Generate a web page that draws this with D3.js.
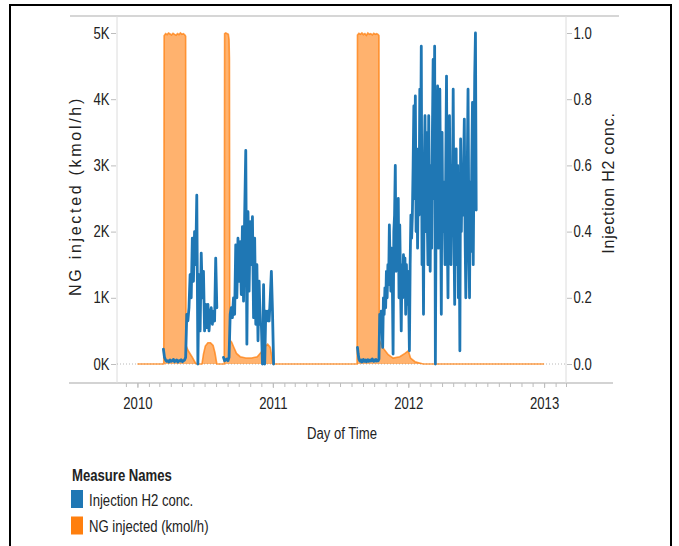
<!DOCTYPE html>
<html>
<head>
<meta charset="utf-8">
<script src="https://cdn.jsdelivr.net/npm/d3@7"></script>
<style>
  body { margin: 0; background: #fff; }
  svg text { font-family: "Liberation Sans", Arial, sans-serif; fill: #222; }
</style>
</head>
<body>
<svg id="chart" width="679" height="546"></svg>
<script>
// Measures and their colours
const seriesNames = ["Injection H2 conc.", "NG injected (kmol/h)"];
const seriesColors = ["#1f77b4", "#ff7f0e"];

// Axis ticks
const leftTicks = [0, 1000, 2000, 3000, 4000, 5000];
const rightTicks = [0, 0.2, 0.4, 0.6, 0.8, 1.0];
const yearTicks = ["2010-01-01", "2011-01-01", "2012-01-01", "2013-01-01"];

// NG injected (kmol/h): [day, value]
const ngPoints = [
  ["2010-01-01", 0], ["2010-03-13", 0], ["2010-03-14", 4960], ["2010-03-18", 4990], ["2010-03-22", 4975],
  ["2010-03-26", 5000], ["2010-03-30", 4985], ["2010-04-03", 4970], ["2010-04-07", 4995], ["2010-04-11", 4980],
  ["2010-04-15", 4965], ["2010-04-19", 4990], ["2010-04-23", 4975], ["2010-04-27", 5000], ["2010-05-01", 4980],
  ["2010-05-05", 4990], ["2010-05-09", 4970], ["2010-05-11", 4950], ["2010-05-12", 280], ["2010-05-18", 200],
  ["2010-05-28", 110], ["2010-06-06", 20], ["2010-06-10", 0],
  ["2010-06-24", 0], ["2010-06-28", 150], ["2010-07-03", 270], ["2010-07-10", 320], ["2010-07-17", 320],
  ["2010-07-24", 280], ["2010-07-29", 170], ["2010-08-03", 0],
  ["2010-08-23", 0], ["2010-08-24", 4990], ["2010-08-27", 5000], ["2010-08-31", 4990], ["2010-09-03", 4980],
  ["2010-09-05", 4900], ["2010-09-06", 4600], ["2010-09-07", 360], ["2010-09-12", 330], ["2010-09-18", 250],
  ["2010-09-25", 160], ["2010-10-05", 110], ["2010-10-20", 90], ["2010-11-05", 90], ["2010-11-20", 110],
  ["2010-12-01", 180], ["2010-12-10", 260], ["2010-12-18", 300], ["2010-12-25", 250], ["2010-12-29", 120],
  ["2011-01-01", 0],
  ["2011-08-16", 0], ["2011-08-17", 4970], ["2011-08-21", 4995], ["2011-08-25", 4980], ["2011-08-29", 5000],
  ["2011-09-02", 4975], ["2011-09-06", 4990], ["2011-09-10", 4965], ["2011-09-14", 5000], ["2011-09-18", 4980],
  ["2011-09-22", 4990], ["2011-09-26", 4970], ["2011-09-30", 4995], ["2011-10-04", 4980], ["2011-10-08", 4990],
  ["2011-10-12", 4975], ["2011-10-14", 4960], ["2011-10-15", 360], ["2011-10-25", 240], ["2011-11-08", 140],
  ["2011-11-21", 90], ["2011-12-09", 110], ["2011-12-23", 160], ["2012-01-01", 200], ["2012-01-07", 90],
  ["2012-01-19", 35], ["2012-02-10", 0], ["2013-01-01", 0]
];

// Injection H2 conc.: regular readings from each run's start day
const h2Starts = ["2010-03-12", "2010-08-21", "2011-08-17"];
const h2Steps = [3, 3, 2];
const h2Run1 = [
  0.045, 0.02, 0.012, 0.008, 0.01, 0.006, 0.012, 0.008, 0.01, 0.014, 0.007, 0.01, 0.012, 0.006, 0.01,
  0.009, 0.013, 0.007, 0.01, 0.012, 0.02,
  0.15, 0.13, 0.17, 0.27, 0.2, 0.38, 0.25, 0.40, 0.30, 0.51, 0.0, 0.27, 0.1, 0.335, 0.2, 0.28, 0.1,
  0.18, 0.11, 0.18, 0.1, 0.15, 0.17, 0.12, 0.16, 0.13, 0.32, 0.17
];
const h2Run2 = [
  0.02, 0.01, 0.012, 0.015, 0.01, 0.02, 0.15, 0.17, 0.14, 0.2, 0.15, 0.36, 0.2, 0.38, 0.25, 0.37,
  0.21, 0.415, 0.19, 0.45, 0.645, 0.06, 0.46, 0.22, 0.43, 0.3, 0.445, 0.14, 0.38, 0.12, 0.3, 0.07,
  0.25, 0.12, 0.12, 0.0, 0.24, 0.0, 0.16, 0.13, 0.16, 0.13, 0.2, 0.28, 0.16, 0.0
];
const h2Run3 = [
  0.05, 0.03, 0.015, 0.01, 0.008, 0.012, 0.006, 0.01, 0.014, 0.008, 0.01, 0.012, 0.007, 0.01, 0.013,
  0.008, 0.01, 0.012, 0.009, 0.011, 0.015, 0.01, 0.008, 0.012, 0.01, 0.014, 0.009, 0.011, 0.01, 0.015,
  0.15, 0.1, 0.16, 0.12, 0.05, 0.2, 0.15, 0.23, 0.17, 0.28, 0.2, 0.3, 0.24, 0.42, 0.3, 0.22, 0.35,
  0.25, 0.03, 0.4, 0.45, 0.6, 0.28, 0.45, 0.3, 0.5, 0.2, 0.42, 0.25, 0.1, 0.3, 0.2, 0.33, 0.23, 0.32,
  0.15, 0.3, 0.18, 0.28, 0.2, 0.04, 0.3, 0.45, 0.38, 0.45, 0.6, 0.78, 0.5, 0.81, 0.4, 0.65, 0.35, 0.6,
  0.45, 0.83, 0.6, 0.96, 0.3, 0.5, 0.15, 0.6, 0.75, 0.4, 0.7, 0.45, 0.3, 0.75, 0.5, 0.28, 0.6, 0.35,
  0.7, 0.92, 0.5, 0.96, 0.0, 0.5, 0.65, 0.84, 0.35, 0.6, 0.83, 0.5, 0.15, 0.7, 0.4, 0.55, 0.45, 0.3,
  0.6, 0.87, 0.4, 0.2, 0.6, 0.75, 0.45, 0.3, 0.6, 0.5, 0.83, 0.4, 0.18, 0.5, 0.65, 0.3, 0.6, 0.2, 0.45,
  0.04, 0.68, 0.4, 0.6, 0.45, 0.6, 0.74, 0.4, 0.2, 0.34, 0.6, 0.83, 0.45, 0.2, 0.55, 0.34, 0.6, 0.79,
  0.3, 0.6, 0.87, 1.0, 0.465
];

const parseDay = d3.utcParse("%Y-%m-%d");
const svg = d3.select("#chart");
const NARROW = 0.82;   // horizontal squeeze for the condensed label face

function narrowText(parent, x, y, str, opts = {}) {
  return parent.append("text")
    .attr("transform", `translate(${x},${y}) scale(${NARROW},1)`)
    .attr("text-anchor", opts.anchor || "start")
    .attr("font-size", opts.size || 16)
    .attr("font-weight", opts.weight || "normal")
    .text(str);
}

// Frame
svg.append("rect").attr("x", 10).attr("y", 5).attr("width", 661).attr("height", 560)
  .attr("fill", "none").attr("stroke", "#000").attr("stroke-width", 2);

const plotLeft = 117, plotRight = 566, plotTop = 16, plotBottom = 383;

const x = d3.scaleUtc()
  .domain([parseDay("2009-11-07"), parseDay("2013-03-01")])
  .range([plotLeft, plotRight]);
const yNG = d3.scaleLinear().domain([0, 5000]).range([364, 33]);
const yH2 = d3.scaleLinear().domain([0, 1]).range([364, 33]);

// Pane borders
svg.append("line").attr("x1", 70).attr("x2", 619).attr("y1", plotTop).attr("y2", plotTop)
  .attr("stroke", "#d6d6d6").attr("stroke-width", 2);
svg.append("line").attr("x1", 69).attr("x2", 613).attr("y1", plotBottom).attr("y2", plotBottom)
  .attr("stroke", "#c4c4c4").attr("stroke-width", 1.5);
[plotLeft, plotRight].forEach(px => {
  svg.append("line").attr("x1", px).attr("x2", px).attr("y1", plotTop).attr("y2", plotBottom)
    .attr("stroke", "#dcdcdc").attr("stroke-width", 1);
});

// Zero reference line
svg.append("line").attr("x1", plotLeft).attr("x2", plotRight).attr("y1", yNG(0)).attr("y2", yNG(0))
  .attr("stroke", "#b8b8b8").attr("stroke-width", 1).attr("stroke-dasharray", "1,2");

function styleTicks(g) {
  g.select(".domain").remove();
  g.selectAll(".tick line").attr("stroke", "#bdbdbd");
  g.selectAll(".tick text").attr("font-size", 16).attr("fill", "#222")
    .attr("transform", `scale(${NARROW},1)`);
}

// Left axis
const leftAxis = d3.axisLeft(yNG).tickValues(leftTicks).tickSize(5).tickPadding(3)
  .tickFormat(d => (d / 1000) + "K");
svg.append("g").attr("transform", `translate(${plotLeft - 1},0)`).call(leftAxis).call(styleTicks);

// Right axis
const rightAxis = d3.axisRight(yH2).tickValues(rightTicks).tickSize(5).tickPadding(3)
  .tickFormat(d3.format(".1f"));
svg.append("g").attr("transform", `translate(${plotRight + 1},0)`).call(rightAxis).call(styleTicks);

// Bottom axis: monthly ticks, labelled years
const monthAxis = d3.axisBottom(x).ticks(d3.utcMonth.every(1)).tickSize(4).tickFormat("");
svg.append("g").attr("transform", `translate(0,${plotBottom})`).call(monthAxis).call(styleTicks);
const yearAxis = d3.axisBottom(x).tickValues(yearTicks.map(parseDay)).tickSize(5).tickPadding(10)
  .tickFormat(d3.utcFormat("%Y"));
svg.append("g").attr("transform", `translate(0,${plotBottom})`).call(yearAxis).call(styleTicks);

// Axis titles
svg.append("text")
  .attr("transform", "translate(81,196) rotate(-90)")
  .attr("text-anchor", "middle").attr("font-size", 16).attr("letter-spacing", 2.7)
  .text("NG injected (kmol/h)");
svg.append("text")
  .attr("transform", "translate(614,183) rotate(-90)")
  .attr("text-anchor", "middle").attr("font-size", 16).attr("letter-spacing", 0.8)
  .text("Injection H2 conc.");
narrowText(svg, 342, 439, "Day of Time", { anchor: "middle" });

// NG injected area
const ngData = ngPoints.map(([d, v]) => ({ date: parseDay(d), value: v }));
const ngArea = d3.area().x(d => x(d.date)).y0(yNG(0)).y1(d => yNG(d.value));
const ngLine = d3.line().x(d => x(d.date)).y(d => yNG(d.value));
svg.append("path").datum(ngData).attr("d", ngArea)
  .attr("fill", seriesColors[1]).attr("fill-opacity", 0.6);
svg.append("path").datum(ngData).attr("d", ngLine)
  .attr("fill", "none").attr("stroke", seriesColors[1]).attr("stroke-opacity", 0.75)
  .attr("stroke-width", 1.6).attr("stroke-linejoin", "miter");

// H2 concentration line, one path per run
const h2Runs = [h2Run1, h2Run2, h2Run3].map((vals, k) => {
  const start = parseDay(h2Starts[k]);
  return vals.map((v, i) => ({ date: d3.utcDay.offset(start, i * h2Steps[k]), value: v }));
});
const h2Line = d3.line().x(d => x(d.date)).y(d => yH2(d.value));
svg.append("g").selectAll("path").data(h2Runs).join("path")
  .attr("d", h2Line).attr("fill", "none").attr("stroke", seriesColors[0])
  .attr("stroke-width", 2.8).attr("stroke-linejoin", "round").attr("stroke-linecap", "round");

// Legend
const legend = svg.append("g");
narrowText(legend, 72, 481, "Measure Names", { weight: "bold" });
seriesNames.forEach((name, i) => {
  legend.append("rect").attr("x", 71).attr("y", 490 + i * 26.5).attr("width", 12).attr("height", 18)
    .attr("fill", seriesColors[i]);
  narrowText(legend, 89, 505.5 + i * 26.5, name);
});
</script>
</body>
</html>
